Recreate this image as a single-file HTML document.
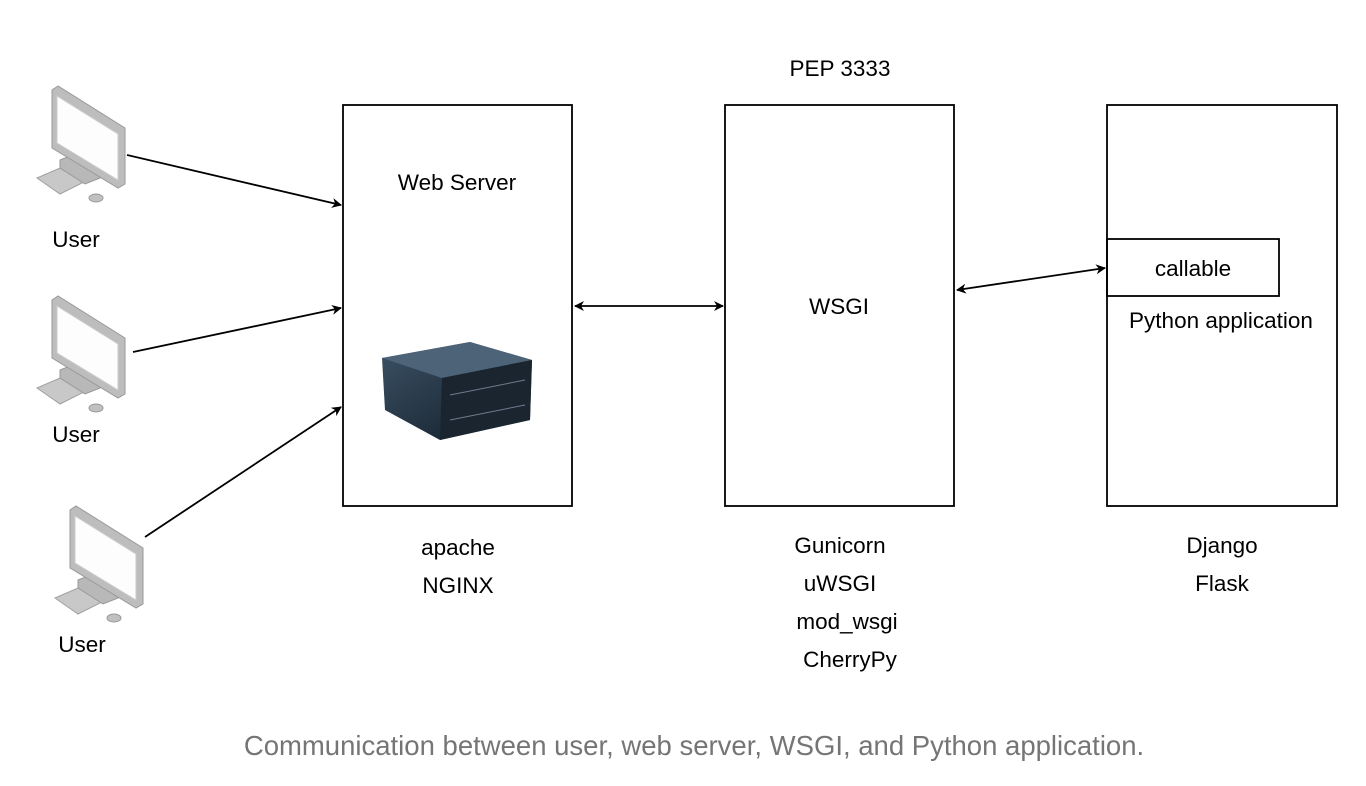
<!DOCTYPE html>
<html><head><style>
html,body{margin:0;padding:0;background:#fff;}
svg{display:block;}
text{font-family:"Liberation Sans",Arial,sans-serif;}
</style></head><body>
<svg width="1366" height="786" viewBox="0 0 1366 786" xmlns="http://www.w3.org/2000/svg">
<defs>
<marker id="ah" markerWidth="10" markerHeight="10" refX="9" refY="5" orient="auto-start-reverse" markerUnits="userSpaceOnUse">
<path d="M0,0 L10,5 L0,10 L3,5 z" fill="#000"/>
</marker>
<linearGradient id="srv" x1="0" y1="0" x2="1" y2="1">
<stop offset="0" stop-color="#3c5266"/><stop offset="1" stop-color="#0f1a24"/>
</linearGradient>
<g id="pc">
<polygon points="37,178 60,168 84,182 60,194" fill="#c8c8c8" stroke="#a0a0a0"/>
<polygon points="60,160 75,154 100,170 100,178 85,184 60,168" fill="#b8b8b8" stroke="#999"/>
<polygon points="52,90 58,86 125,128 125,184 118,188 52,148" fill="#bdbdbd" stroke="#999"/>
<polygon points="57,96 118,134 118,180 57,143" fill="#fdfdfd" stroke="#ccc"/>
<ellipse cx="96" cy="198" rx="7" ry="4" fill="#c0c0c0" stroke="#999"/>
</g>
</defs>
<use href="#pc"/>
<use href="#pc" transform="translate(0,210)"/>
<use href="#pc" transform="translate(18,420)"/>
<g font-size="22.5" text-anchor="middle">
<text x="76" y="247">User</text>
<text x="76" y="442">User</text>
<text x="82" y="652">User</text>
</g>

<g stroke="#000" stroke-width="1.8" fill="none">
<line x1="127" y1="155" x2="341" y2="205" marker-end="url(#ah)"/>
<line x1="133" y1="352" x2="341" y2="308" marker-end="url(#ah)"/>
<line x1="145" y1="537" x2="341" y2="407" marker-end="url(#ah)"/>
<line x1="575" y1="306" x2="723" y2="306" marker-start="url(#ah)" marker-end="url(#ah)"/>
<line x1="957" y1="290" x2="1105" y2="268" marker-start="url(#ah)" marker-end="url(#ah)"/>
</g>

<g stroke="#000" stroke-width="1.8" fill="none">
<rect x="343" y="105" width="229" height="401"/>
<rect x="725" y="105" width="229" height="401"/>
<rect x="1107" y="105" width="230" height="401"/>
<rect x="1107" y="239" width="172" height="57"/>
</g>

<polygon points="382,358 470,342 532,360 530,420 440,440 385,410" fill="url(#srv)"/>
<polygon points="382,358 470,342 532,360 442,378" fill="#4d6478"/>
<polygon points="442,378 532,360 530,420 440,440" fill="#1a2530"/>
<g stroke="#6c7c8c" stroke-width="1">
<line x1="450" y1="395" x2="525" y2="380"/>
<line x1="450" y1="420" x2="525" y2="405"/>
</g>

<g font-size="22.5" text-anchor="middle">
<text x="457" y="190">Web Server</text>
<text x="839" y="314">WSGI</text>
<text x="840" y="76">PEP 3333</text>
<text x="1193" y="276">callable</text>
<text x="1221" y="328">Python application</text>
<text x="458" y="555">apache</text>
<text x="458" y="593">NGINX</text>
<text x="840" y="553">Gunicorn</text>
<text x="840" y="591">uWSGI</text>
<text x="847" y="629">mod_wsgi</text>
<text x="850" y="667">CherryPy</text>
<text x="1222" y="553">Django</text>
<text x="1222" y="591">Flask</text>
</g>

<text x="694" y="755" font-size="27.5" fill="#757575" text-anchor="middle">Communication between user, web server, WSGI, and Python application.</text>
</svg>
</body></html>
